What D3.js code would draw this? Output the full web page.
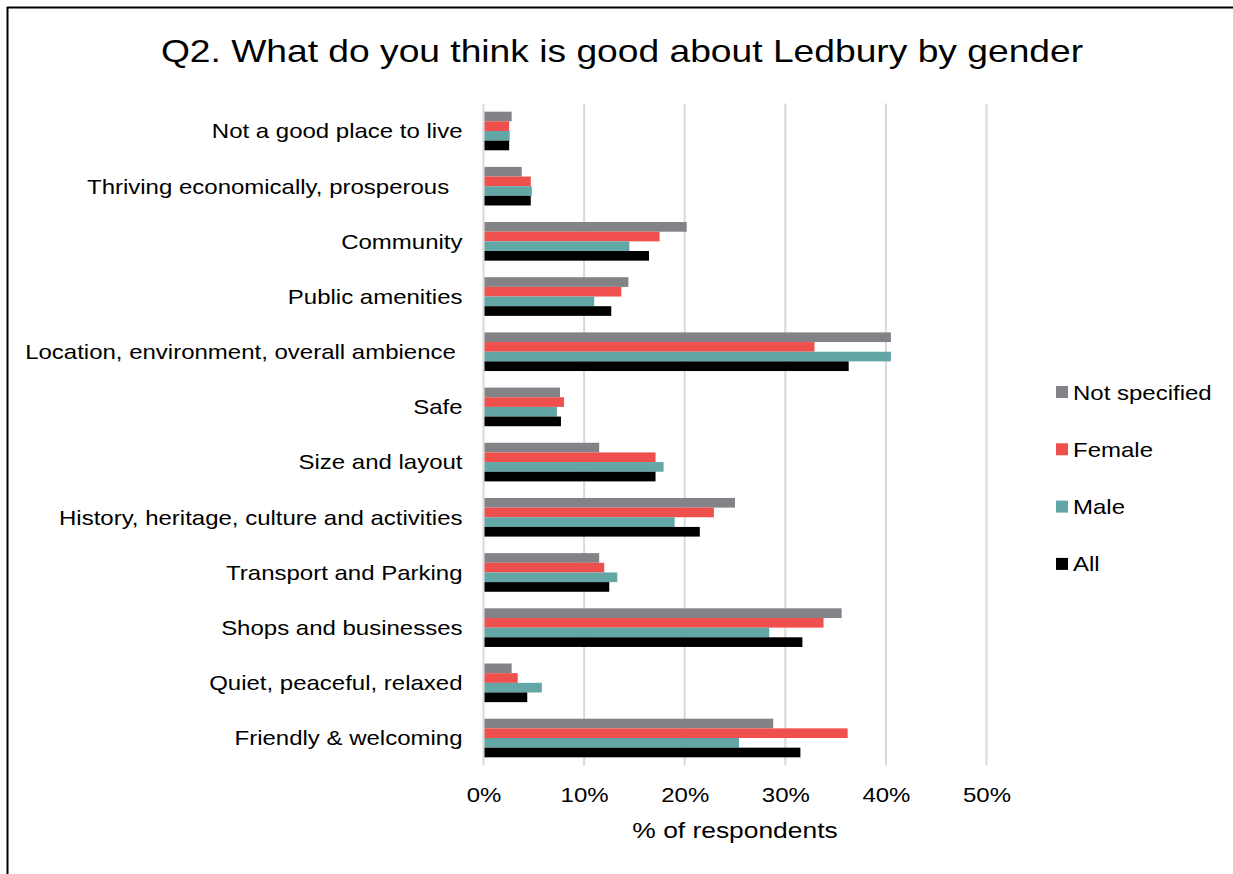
<!DOCTYPE html>
<html>
<head>
<meta charset="utf-8">
<script src="https://cdn.jsdelivr.net/npm/d3@7"></script>
<style>
  html, body { margin: 0; padding: 0; background: #fff; }
  svg { display: block; font-family: "Liberation Sans", Arial, sans-serif; }
  text { white-space: pre; }
</style>
</head>
<body>
<svg id="chart" width="1233" height="874"></svg>
<script>
// Response categories, top to bottom
const categories = [
  "Not a good place to live",
  "Thriving economically, prosperous  ",
  "Community",
  "Public amenities",
  "Location, environment, overall ambience ",
  "Safe",
  "Size and layout",
  "History, heritage, culture and activities",
  "Transport and Parking",
  "Shops and businesses",
  "Quiet, peaceful, relaxed",
  "Friendly & welcoming"
];

// Series, in the order drawn within each group (top to bottom)
const seriesNames = ["Not specified", "Female", "Male", "All"];
const seriesColors = ["#838387", "#F0504D", "#62A6A6", "#000000"];

// Share of respondents (%) per category
const notSpecified = [2.8, 3.8, 20.2, 14.4, 40.5, 7.6, 11.5, 25.0, 11.5, 35.6, 2.8, 28.8];
const female       = [2.55, 4.7, 17.5, 13.7, 32.9, 8.0, 17.1, 22.9, 12.0, 33.8, 3.4, 36.2];
const male         = [2.6, 4.8, 14.5, 11.0, 40.5, 7.3, 17.9, 19.0, 13.3, 28.4, 5.8, 25.4];
const all          = [2.55, 4.7, 16.45, 12.7, 36.3, 7.7, 17.1, 21.5, 12.5, 31.7, 4.35, 31.5];

const xTicks = [0, 10, 20, 30, 40, 50];

const seriesValues = [notSpecified, female, male, all];

// Text in this chart uses a slightly wide letterform
const WIDE = "scale(1.2,1)";

const svg = d3.select("#chart");

// Outer frame (top and left edges)
svg.append("line").attr("x1", 7).attr("x2", 1233).attr("y1", 7.5).attr("y2", 7.5)
  .attr("stroke", "#000").attr("stroke-width", 2);
svg.append("line").attr("x1", 7.5).attr("x2", 7.5).attr("y1", 7).attr("y2", 874)
  .attr("stroke", "#000").attr("stroke-width", 2);

// Title
svg.append("g").attr("transform", "translate(622,62)")
  .append("text")
  .attr("transform", WIDE)
  .attr("text-anchor", "middle")
  .attr("font-size", 31)
  .attr("fill", "#000")
  .text("Q2. What do you think is good about Ledbury by gender");

const plot = { left: 483.5, right: 986.5, top: 103.4, bottom: 765.6 };

const x = d3.scaleLinear().domain([0, 50]).range([plot.left, plot.right]);
const y = d3.scaleBand().domain(categories).range([plot.top, plot.bottom]).paddingInner(0.3).paddingOuter(0.15);
const ySeries = d3.scaleBand().domain(seriesNames).range([0, y.bandwidth()]);

// Vertical gridlines
svg.append("g").selectAll("line").data(xTicks).join("line")
  .attr("x1", d => x(d)).attr("x2", d => x(d))
  .attr("y1", plot.top).attr("y2", plot.bottom)
  .attr("stroke", "#d9d9d9").attr("stroke-width", 2);

// Bars
const groups = svg.append("g").selectAll("g").data(categories).join("g")
  .attr("transform", d => `translate(0,${y(d)})`);

groups.selectAll("rect")
  .data((c, i) => seriesNames.map((s, j) => ({ s, j, v: seriesValues[j][i] })))
  .join("rect")
  .attr("x", x(0) + 1)
  .attr("y", d => ySeries(d.s))
  .attr("width", d => x(d.v) - x(0) - 1)
  .attr("height", ySeries.bandwidth())
  .attr("fill", d => seriesColors[d.j]);

// Category axis labels
const yAxis = d3.axisLeft(y).tickSize(0).tickPadding(0);
const yg = svg.append("g").attr("transform", `translate(${plot.left - 21},1)`).call(yAxis);
yg.select(".domain").remove();
yg.selectAll("text").attr("font-size", 20).attr("fill", "#000")
  .attr("font-family", "Liberation Sans, Arial, sans-serif")
  .attr("transform", WIDE);

// Value axis labels
const xAxis = d3.axisBottom(x).tickValues(xTicks).tickFormat(d => d + "%").tickSize(0).tickPadding(0);
const xg = svg.append("g").attr("transform", `translate(0,${plot.bottom + 22})`).call(xAxis);
xg.select(".domain").remove();
xg.selectAll("text").attr("font-size", 20).attr("fill", "#000")
  .attr("font-family", "Liberation Sans, Arial, sans-serif")
  .attr("transform", WIDE);

// Axis title
svg.append("g").attr("transform", `translate(${x(25)},838)`)
  .append("text")
  .attr("transform", WIDE)
  .attr("text-anchor", "middle")
  .attr("font-size", 22).attr("fill", "#000")
  .text("% of respondents");

// Legend
const legend = svg.append("g").selectAll("g").data(seriesNames).join("g")
  .attr("transform", (d, i) => `translate(1056,${392 + i * 57.3})`);
legend.append("rect").attr("x", 0).attr("y", -6).attr("width", 12).attr("height", 12)
  .attr("fill", (d, i) => seriesColors[i]);
legend.append("g").attr("transform", "translate(17,7.5)")
  .append("text").attr("transform", WIDE)
  .attr("font-size", 20).attr("fill", "#000")
  .text(d => d);
</script>
</body>
</html>
